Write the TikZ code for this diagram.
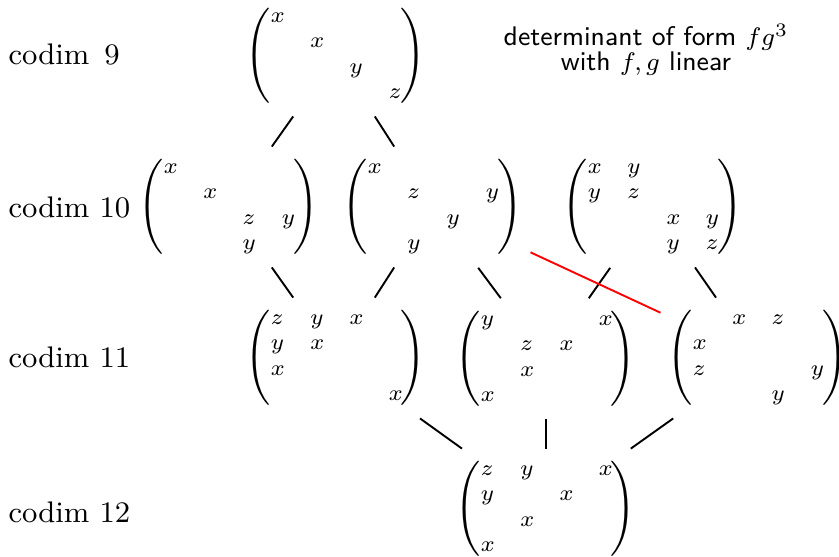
\documentclass[tikz,border=0pt]{standalone}
\usetikzlibrary{matrix,calc}
\begin{document}
\begin{tikzpicture}[
    x=0.3155pt, y=-0.3155pt,
    every left delimiter/.style={xshift=2pt},
    every right delimiter/.style={xshift=-2pt},
    mat/.style={matrix of math nodes, nodes in empty cells,
      left delimiter=(, right delimiter=),
      inner sep=0.5pt, column sep=8.4pt, row sep=2.3pt,
      nodes={font=\scriptsize, inner sep=0pt, text width=4pt, align=center,
        text height=4.3pt, text depth=1.4pt}},
    codim/.style={anchor=base west, inner sep=0pt, font=\fontsize{9.4}{11}\selectfont},
    title/.style={font=\sffamily\fontsize{8.5}{7.9}\selectfont, align=center},
    link/.style={semithick},
    cut/.style={semithick, red}
]
\useasboundingbox (0,0) rectangle (839,556);

% ---- row labels ----
\node[codim] (c9)  at (8,64)  {codim\enspace 9};
\node[codim] (c10) at (8,217) {codim 10};
\node[codim] (c11) at (8,367) {codim 11};
\node[codim] (c12) at (8,522) {codim 12};

\node[title] (head) at (646,50) {determinant of form $fg^3$\\ with $f,g$ linear};

% ---- matrices ----
\matrix[mat] (m9) at (336,56) {
  x & & & \\
  & x & & \\
  & & y & \\
  & & & z \\
};

\matrix[mat] (m10a) at (229,207) {
  x & & & \\
  & x & & \\
  & & z & y \\
  & & y & \\
};
\matrix[mat] (m10b) at (433,207) {
  x & & & \\
  & z & & y \\
  & & y & \\
  & y & & \\
};
\matrix[mat] (m10c) at (653,207) {
  x & y & & \\
  y & z & & \\
  & & x & y \\
  & & y & z \\
};

\matrix[mat] (m11a) at (336,358) {
  z & y & x & \\
  y & x & & \\
  x & & & \\
  & & & x \\
};
\matrix[mat] (m11b) at (546,359) {
  y & & & x \\
  & z & x & \\
  & x & & \\
  x & & & \\
};
\matrix[mat] (m11c) at (758,358) {
  & x & z & \\
  x & & & \\
  z & & & y \\
  & & y & \\
};

\matrix[mat] (m12) at (546,509) {
  z & y & & x \\
  y & & x & \\
  & x & & \\
  x & & & \\
};

% ---- links ----
\draw[link] ($(m9)!0.4!(m10a)$) -- ($(m9)!0.6!(m10a)$);
\draw[link] ($(m9)!0.4!(m10b)$) -- ($(m9)!0.6!(m10b)$);

\draw[link] ($(m10a)!0.4!(m11a)$) -- ($(m10a)!0.6!(m11a)$);
\draw[link] ($(m10b)!0.4!(m11a)$) -- ($(m10b)!0.6!(m11a)$);
\draw[link] ($(m10b)!0.4!(m11b)$) -- ($(m10b)!0.6!(m11b)$);
\draw[link] ($(m10c)!0.4!(m11b)$) -- ($(m10c)!0.6!(m11b)$);
\draw[link] ($(m10c)!0.4!(m11c)$) -- ($(m10c)!0.6!(m11c)$);

\draw[link] ($(m11a)!0.4!(m12)$) -- ($(m11a)!0.6!(m12)$);
\draw[link] ($(m11b)!0.4!(m12)$) -- ($(m11b)!0.6!(m12)$);
\draw[link] ($(m11c)!0.4!(m12)$) -- ($(m11c)!0.6!(m12)$);

\draw[cut] ($(m10b)!0.3!(m11c)$) -- ($(m10b)!0.7!(m11c)$);

\end{tikzpicture}
\end{document}
